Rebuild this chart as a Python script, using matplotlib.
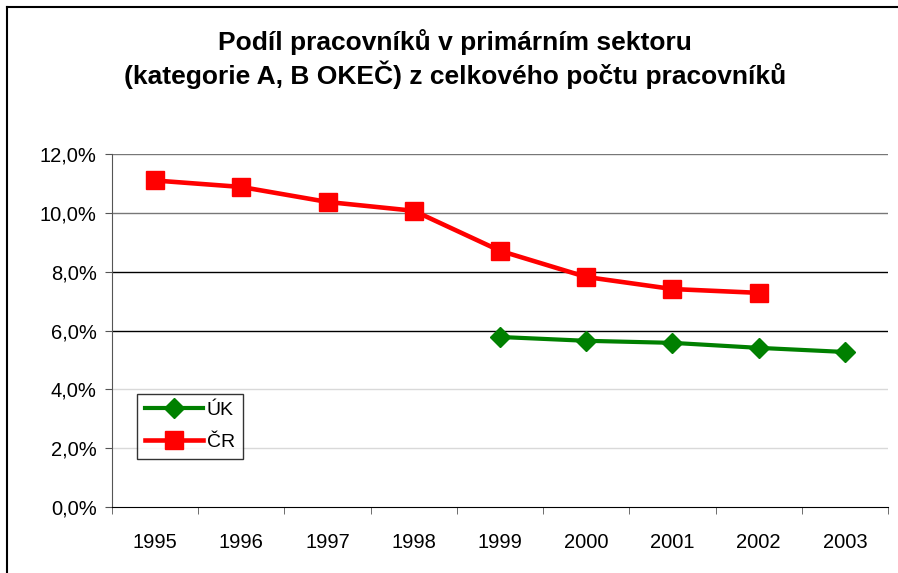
import matplotlib
matplotlib.use("Agg")
import matplotlib.pyplot as plt
from matplotlib.lines import Line2D
import numpy as np

years = ["1995", "1996", "1997", "1998", "1999", "2000", "2001", "2002", "2003"]
cr = [11.1, 10.88, 10.37, 10.07, 8.71, 7.82, 7.41, 7.28, None]
uk = [None, None, None, None, 5.78, 5.65, 5.58, 5.41, 5.27]
yticks = [0, 2, 4, 6, 8, 10, 12]

plt.rcParams['font.family'] = ['Liberation Sans', 'DejaVu Sans']

fig = plt.figure(figsize=(8.98, 5.73), dpi=100)
ax = fig.add_axes([0.1247, 0.1152, 0.8642, 0.616])

x = np.arange(len(years))

# gridlines drawn by hand, Excel look
grid_colors = {2: '#d9d9d9', 4: '#d9d9d9', 6: '#000000', 8: '#000000', 10: '#777777', 12: '#777777'}
for v in yticks[1:]:
    ax.axhline(v, color=grid_colors[v], lw=1, zorder=1)

uk_x = [i for i, v in enumerate(uk) if v is not None]
uk_y = [v for v in uk if v is not None]
cr_x = [i for i, v in enumerate(cr) if v is not None]
cr_y = [v for v in cr if v is not None]

ax.plot(uk_x, uk_y, color='#008000', lw=3, marker='D', markersize=10.5, label='ÚK', zorder=3)
ax.plot(cr_x, cr_y, color='#ff0000', lw=3.3, marker='s', markersize=13.5, label='ČR', zorder=3)

ax.set_xlim(-0.5, 8.5)
ax.set_ylim(0, 12)
ax.set_yticks(yticks)
ax.set_yticklabels([f"{v:.1f}".replace('.', ',') + '%' for v in yticks])
ax.set_xticks(x)
ax.set_xticklabels(years)
ax.set_xticks(np.arange(-0.5, 9, 1), minor=True)

ax.tick_params(axis='x', which='major', length=0, pad=19, labelsize=14.5)
ax.tick_params(axis='x', which='minor', length=5, direction='out', color='#555555')
ax.tick_params(axis='y', length=5, direction='out', pad=6, labelsize=14.5, color='#555555')

for s in ['top', 'right']:
    ax.spines[s].set_visible(False)
ax.spines['left'].set_color('#555555')
ax.spines['bottom'].set_color('#000000')

leg = ax.legend(loc='lower left', bbox_to_anchor=(0.032, 0.136), fontsize=14, frameon=True,
                fancybox=False, edgecolor='black', handlelength=3.0, borderpad=0.4,
                labelspacing=0.75, handletextpad=0.2, borderaxespad=0)
leg.get_frame().set_linewidth(1)

fig.text(0.507, 0.927, "Podíl pracovníků v primárním sektoru", ha='center', va='center',
         fontsize=19, fontweight='bold')
fig.text(0.507, 0.869, "(kategorie A, B OKEČ) z celkového počtu pracovníků", ha='center',
         va='center', fontsize=19, fontweight='bold')

# chart area border (left and top only visible)
fig.add_artist(Line2D([0.0078, 0.0078], [0, 0.988], color='black', lw=1.5, transform=fig.transFigure))
fig.add_artist(Line2D([0.0078, 1.0], [0.988, 0.988], color='black', lw=1.5, transform=fig.transFigure))

fig.savefig("out.png", dpi=100)
